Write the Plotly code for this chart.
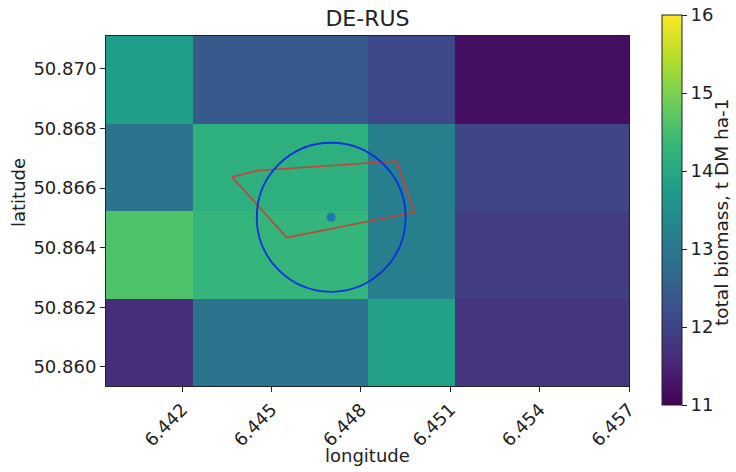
import plotly.graph_objects as go

# ---- data ----
lon_edges = [6.43944, 6.44237, 6.44529, 6.44822, 6.45115, 6.45407, 6.45700]
lat_edges = [50.85936, 50.86230, 50.86523, 50.86817, 50.87110]
# rows from south (bottom) to north (top)
biomass_row1 = [11.65, 12.90, 12.90, 13.85, 11.75, 11.75]
biomass_row2 = [14.60, 14.28, 14.28, 13.15, 11.90, 11.90]
biomass_row3 = [12.90, 14.15, 14.15, 13.15, 12.05, 12.05]
biomass_row4 = [13.80, 12.42, 12.42, 12.10, 11.20, 11.20]

site_lon = [6.44700]
site_lat = [50.86502]
radius_deg = 0.0025

field_lon = [6.44367, 6.44456, 6.44919, 6.44980, 6.44551, 6.44367]
field_lat = [50.86637, 50.86659, 50.86690, 50.86519, 50.86434, 50.86637]

x_ticks = [6.442, 6.445, 6.448, 6.451, 6.454, 6.457]
y_ticks = [50.860, 50.862, 50.864, 50.866, 50.868, 50.870]
cbar_ticks = [11, 12, 13, 14, 15, 16]

title_text = "DE-RUS"
x_label = "longitude"
y_label = "latitude"
cbar_label = "total biomass, t DM ha-1"

# ---- figure ----
W, H = 736, 472
ML, MR, MT, MB = 106, 107, 36, 86
PW, PH = W - ML - MR, H - MT - MB
FONT = "DejaVu Sans"
INK = "#222222"

z = [biomass_row1, biomass_row2, biomass_row3, biomass_row4]

fig = go.Figure()
fig.add_trace(go.Heatmap(
    x=lon_edges, y=lat_edges, z=z,
    colorscale="Viridis", zmin=11, zmax=16,
    hoverinfo="skip",
    colorbar=dict(
        thickness=20, lenmode="pixels", len=390,
        x=(662 - ML) / PW, xanchor="left", xpad=0,
        y=(MT + PH - 210) / PH, yanchor="middle", ypad=0,
        outlinewidth=1, outlinecolor=INK,
        tickvals=cbar_ticks, ticktext=[str(v) for v in cbar_ticks],
        ticks="outside", ticklen=5, tickwidth=1, tickcolor=INK,
        tickfont=dict(family=FONT, size=18, color=INK),
    ),
))

fig.add_trace(go.Scatter(
    x=field_lon, y=field_lat, mode="lines",
    line=dict(color="#c8413a", width=1.6),
    hoverinfo="skip", showlegend=False,
))
fig.add_trace(go.Scatter(
    x=site_lon, y=site_lat, mode="markers",
    marker=dict(color="#1f77b4", size=9),
    hoverinfo="skip", showlegend=False,
))

fig.add_shape(
    type="circle", xref="x", yref="y",
    x0=site_lon[0] - radius_deg, x1=site_lon[0] + radius_deg,
    y0=site_lat[0] - radius_deg, y1=site_lat[0] + radius_deg,
    line=dict(color="#0a2fe0", width=1.8), layer="above",
)

axis_common = dict(
    ticks="outside", ticklen=5, tickwidth=1, tickcolor=INK,
    showline=True, linecolor=INK, linewidth=1, mirror=True,
    showgrid=False, zeroline=False,
    tickfont=dict(family=FONT, size=18, color=INK),
)

fig.update_layout(
    width=W, height=H,
    margin=dict(l=ML, r=MR, t=MT, b=MB, pad=0),
    paper_bgcolor="white", plot_bgcolor="white",
    showlegend=False,
    title=dict(
        text=title_text, x=0.5, xref="paper", xanchor="center",
        y=1 - 18 / H, yref="container", yanchor="middle",
        font=dict(family=FONT, size=22, color=INK),
    ),
    xaxis=dict(
        range=[lon_edges[0], lon_edges[-1]],
        tickvals=x_ticks, ticktext=[f"{v:.3f}" for v in x_ticks],
        tickangle=-45, **axis_common,
    ),
    yaxis=dict(
        range=[lat_edges[0], lat_edges[-1]],
        tickvals=y_ticks, ticktext=[f"{v:.3f}" for v in y_ticks],
        **axis_common,
    ),
    annotations=[
        dict(text=x_label, xref="paper", yref="paper",
             x=0.5, y=(MT + PH - 455) / PH, xanchor="center", yanchor="middle",
             showarrow=False, font=dict(family=FONT, size=18, color=INK)),
        dict(text=y_label, xref="paper", yref="paper",
             x=(18 - ML) / PW, y=(MT + PH - 193) / PH, xanchor="center", yanchor="middle",
             textangle=-90, showarrow=False, font=dict(family=FONT, size=18, color=INK)),
        dict(text=cbar_label, xref="paper", yref="paper",
             x=(721 - ML) / PW, y=(MT + PH - 212) / PH, xanchor="center", yanchor="middle",
             textangle=-90, showarrow=False, font=dict(family=FONT, size=18.5, color=INK)),
    ],
)

fig.write_html("out.html")
